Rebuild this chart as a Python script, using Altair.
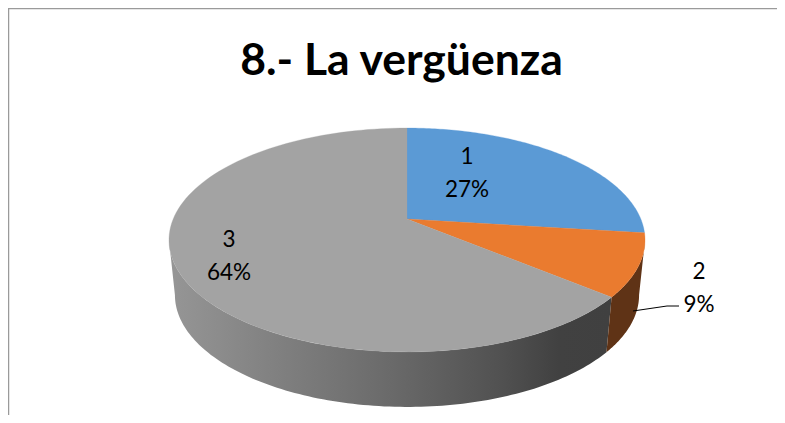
import math
import altair as alt

# --- data
categories = ["1", "2", "3"]
shares = [27, 9, 64]
title_text = "8.- La vergüenza"

# --- layout (svg pixels: page pixels minus the 8px margin)
W, H = 769, 407
CX, CY = 399, 211      # apex of the pie
D = 233.8              # horizontal radius factor
A = 108.0              # vertical radius factor
C = 0.1875             # perspective
DEPTH = 55
SHRINK = 0.975
FONT = "Lato"


def top_pt(theta):
    u, v = math.sin(theta), math.cos(theta)
    k = 1 + C * v
    return [CX + D * u / k, CY - A * v / k]


def low_pt(theta):
    x, y = top_pt(theta)
    return [CX + (x - CX) * SHRINK, y + DEPTH]


def arc(fn, a, b, n=120):
    return [fn(a + (b - a) * i / n) for i in range(n + 1)]


def feature(kind, coords):
    return {"type": "Feature", "properties": {},
            "geometry": {"type": kind, "coordinates": coords}}


def geo(feat, **mark):
    return alt.Chart(alt.Data(values=[feat])).mark_geoshape(**mark).project(
        type="identity")


total = sum(shares)
edges = [0.0]
for s in shares:
    edges.append(edges[-1] + 2 * math.pi * s / total)

right_extreme = math.pi - math.acos(C)
left_extreme = 2 * math.pi - right_extreme


def wall(a, b):
    ring = arc(top_pt, a, b) + arc(low_pt, b, a)
    return feature("Polygon", [ring + [ring[0]]])


def slice_top(a, b):
    ring = [[CX, CY]] + arc(top_pt, a, b)
    return feature("Polygon", [ring + [ring[0]]])


top_colors = ["#5B9AD5", "#EA7B2F", "#A3A3A3"]
gray_wall = alt.Gradient(
    gradient="linear", x1=0, x2=1, y1=0, y2=0,
    stops=[
        alt.GradientStop(color="#969696", offset=0.0),
        alt.GradientStop(color="#848484", offset=0.2),
        alt.GradientStop(color="#6a6a6a", offset=0.5),
        alt.GradientStop(color="#515151", offset=0.75),
        alt.GradientStop(color="#414141", offset=0.88),
        alt.GradientStop(color="#404040", offset=1.0),
    ],
)

layers = [
    # invisible sheet that ties the identity projection to the pixel grid
    geo(feature("Polygon", [[[0, 0], [W, 0], [W, H], [0, H], [0, 0]]]),
        fill="white", stroke=None),
    geo(feature("LineString", [[0.5, H], [0.5, 0.5], [W, 0.5]]),
        filled=False, stroke="#9a9a9a", strokeWidth=1.5),
    geo(wall(edges[2], left_extreme), fill=gray_wall, stroke=None),
    geo(wall(right_extreme, edges[2]), fill="#5F3316", stroke=None),
]
for i in range(3):
    layers.append(geo(slice_top(edges[i], edges[i + 1]),
                      fill=top_colors[i], stroke=top_colors[i], strokeWidth=0.3))
layers.append(geo(feature("LineString", [[625, 303], [659, 298], [671, 298]]),
                  filled=False, stroke="#000000", strokeWidth=1))

label_pos = [(459, 149), (691, 264), (221, 232)]
for cat, share, (lx, ly) in zip(categories, shares, label_pos):
    for line, off in ((cat, 0), (f"{share}%", 33)):
        layers.append(
            alt.Chart(alt.Data(values=[{"t": line}]))
            .mark_text(font=FONT, fontSize=22.5, color="#000000",
                       align="center", baseline="middle")
            .encode(text="t:N", x=alt.value(lx), y=alt.value(ly + off))
        )

chart = alt.layer(*layers).properties(
    width=W,
    height=H,
    padding=0,
    autosize=alt.AutoSizeParams(type="none"),
    title=alt.TitleParams(
        text=title_text, font=FONT, fontSize=44.5, fontWeight="bold",
        color="#000000", anchor="middle", dx=9, dy=83,
    ),
).configure_view(stroke=None).configure_axis(disable=True)

chart.save("out.html", embed_options={"renderer": "svg", "actions": False})
